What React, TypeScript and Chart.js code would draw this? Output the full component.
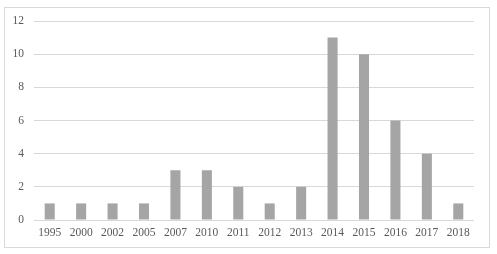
import React, { useEffect, useRef } from "react";
import { Chart, registerables } from "chart.js";

Chart.register(...registerables);

const years = ["1995", "2000", "2002", "2005", "2007", "2010", "2011", "2012", "2013", "2014", "2015", "2016", "2017", "2018"];
const counts = [1, 1, 1, 1, 3, 3, 2, 1, 2, 11, 10, 6, 4, 1];
const yTicks = [0, 2, 4, 6, 8, 10, 12];

export default function App() {
  const ref = useRef<HTMLCanvasElement>(null);
  useEffect(() => {
    document.body.style.margin = "0";
    const chart = new Chart(ref.current!, {
      type: "bar",
      data: {
        labels: years,
        datasets: [
          {
            data: counts,
            backgroundColor: "#a5a5a5",
            barPercentage: 0.32,
            categoryPercentage: 1,
          },
        ],
      },
      options: {
        animation: false,
        responsive: false,
        maintainAspectRatio: false,
        layout: { padding: { left: 0, top: 21, right: 23, bottom: 0 } },
        plugins: { legend: { display: false }, tooltip: { enabled: false } },
        scales: {
          x: {
            grid: { display: false, drawTicks: false },
            border: { display: false },
            ticks: {
              color: "#595959",
              font: { family: "'Liberation Serif', 'Times New Roman', serif", size: 11.5 },
              padding: 6,
              maxRotation: 0,
              autoSkip: false,
            },
            afterFit: (s: any) => {
              s.height = 34;
            },
          },
          y: {
            min: 0,
            max: 12,
            afterBuildTicks: (s: any) => {
              s.ticks = yTicks.map((v) => ({ value: v }));
            },
            grid: { color: "#d9d9d9", drawTicks: false, lineWidth: 1 },
            border: { display: false },
            ticks: {
              color: "#595959",
              font: { family: "'Liberation Serif', 'Times New Roman', serif", size: 11.5 },
              padding: 10,
            },
            afterFit: (s: any) => {
              s.width = 34;
            },
          },
        },
      },
    });
    return () => chart.destroy();
  }, []);
  return (
    <div style={{ position: "relative", width: 497, height: 254, background: "#fff" }}>
      <div
        style={{
          position: "absolute",
          left: 4,
          top: 7,
          width: 484,
          height: 239,
          border: "1px solid #d9d9d9",
        }}
      />
      <canvas ref={ref} width={497} height={254} style={{ position: "absolute", left: 0, top: 0 }} />
    </div>
  );
}
